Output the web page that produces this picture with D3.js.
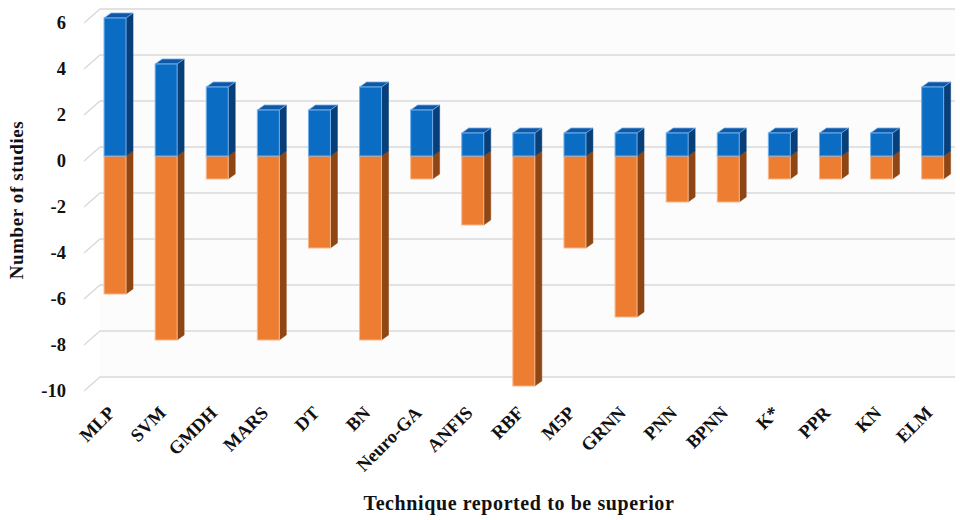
<!DOCTYPE html>
<html>
<head>
<meta charset="utf-8">
<script src="https://cdn.jsdelivr.net/npm/d3@7"></script>
<style>
  html, body { margin: 0; padding: 0; background: #ffffff; }
  svg { display: block; }
  text { font-family: "Liberation Serif", "Times New Roman", serif; font-weight: bold; fill: #111; }
</style>
</head>
<body>
<svg id="chart" width="960" height="520"></svg>
<script>
// Techniques and the number of studies where each was reported superior (+) or inferior (-)
const techniques = ["MLP", "SVM", "GMDH", "MARS", "DT", "BN", "Neuro-GA", "ANFIS", "RBF",
                    "M5P", "GRNN", "PNN", "BPNN", "K*", "PPR", "KN", "ELM"];
const superior = [6, 4, 3, 2, 2, 3, 2, 1, 1, 1, 1, 1, 1, 1, 1, 1, 3];
const inferior = [-6, -8, -1, -8, -4, -8, -1, -3, -10, -4, -7, -2, -2, -1, -1, -1, -1];
const yTicks = [6, 4, 2, 0, -2, -4, -6, -8, -10];

const svg = d3.select("#chart");

// 3D depth offsets of the bars and the back wall
const depthX = 7, depthY = 5;
const wallX = 16, wallY = 14;

const x = d3.scaleBand()
  .domain(techniques)
  .range([89.5, 958.2])
  .paddingInner(0.57)
  .paddingOuter(0.285);

// value scale on the front plane of the bars
const y = d3.scaleLinear().domain([-10, 6]).range([386, 18]);
// front edge of the side wall (where tick labels sit)
const yFront = v => y(v) + 5;
const yBack = v => yFront(v) - wallY;

const wallLeft = 84 + wallX;

// back wall
svg.append("rect")
  .attr("x", wallLeft).attr("y", yBack(6))
  .attr("width", 955 - wallLeft).attr("height", yBack(-10) - yBack(6))
  .attr("fill", "#fcfcfc");

// gridlines: diagonal on the side wall, then horizontal along the back wall
const grid = svg.append("g").attr("stroke", "#d9d9d9").attr("stroke-width", 1.3).attr("fill", "none");
grid.selectAll("path").data(yTicks).join("path")
  .attr("d", v => `M84,${yFront(v)} L${wallLeft},${yBack(v)} L955,${yBack(v)}`);

// y tick labels
svg.append("g").selectAll("text").data(yTicks).join("text")
  .attr("x", 66).attr("y", v => yFront(v))
  .attr("dy", "0.35em")
  .attr("text-anchor", "end")
  .attr("font-size", 18.5)
  .text(d => d);

// y axis title
svg.append("text")
  .attr("transform", "translate(23,200) rotate(-90)")
  .attr("text-anchor", "middle")
  .attr("font-size", 19)
  .attr("letter-spacing", 0.6)
  .text("Number of studies");

// draw one 3D bar segment from 0 to v
function bar3d(g, name, v, colors) {
  const x0 = x(name), w = x.bandwidth();
  const yt = y(Math.max(0, v)), yb = y(Math.min(0, v));
  // right side face
  g.append("path")
    .attr("d", `M${x0 + w},${yt} L${x0 + w + depthX},${yt - depthY} L${x0 + w + depthX},${yb - depthY} L${x0 + w},${yb} Z`)
    .attr("fill", colors.side).attr("stroke", colors.side).attr("stroke-width", 0.5);
  // top face
  if (v > 0) {
    g.append("path")
      .attr("d", `M${x0},${yt} L${x0 + depthX},${yt - depthY} L${x0 + w + depthX},${yt - depthY} L${x0 + w},${yt} Z`)
      .attr("fill", colors.top).attr("stroke", colors.edge).attr("stroke-width", 0.8);
  }
  // front face
  g.append("rect")
    .attr("x", x0).attr("y", yt)
    .attr("width", w).attr("height", yb - yt)
    .attr("fill", colors.front).attr("stroke", colors.edge).attr("stroke-width", 1);
}

const orange = { front: "#ed7d31", side: "#8e4614", top: "#c8641f", edge: "#f7b88c" };
const blue = { front: "#0a6cc2", side: "#083f78", top: "#1058a6", edge: "#6fb0ec" };

const bars = svg.append("g");
techniques.forEach((name, i) => {
  const g = bars.append("g");
  bar3d(g, name, inferior[i], orange);
  bar3d(g, name, superior[i], blue);
});

// category labels
svg.append("g").selectAll("text").data(techniques).join("text")
  .attr("transform", d => `translate(${x(d) + x.bandwidth() / 2 + 1},${414}) rotate(-45)`)
  .attr("text-anchor", "end")
  .attr("font-size", 18.5)
  .text(d => d);

// x axis title
svg.append("text")
  .attr("x", 519).attr("y", 510)
  .attr("text-anchor", "middle")
  .attr("font-size", 20)
  .attr("letter-spacing", 0.6)
  .text("Technique reported to be superior");
</script>
</body>
</html>
